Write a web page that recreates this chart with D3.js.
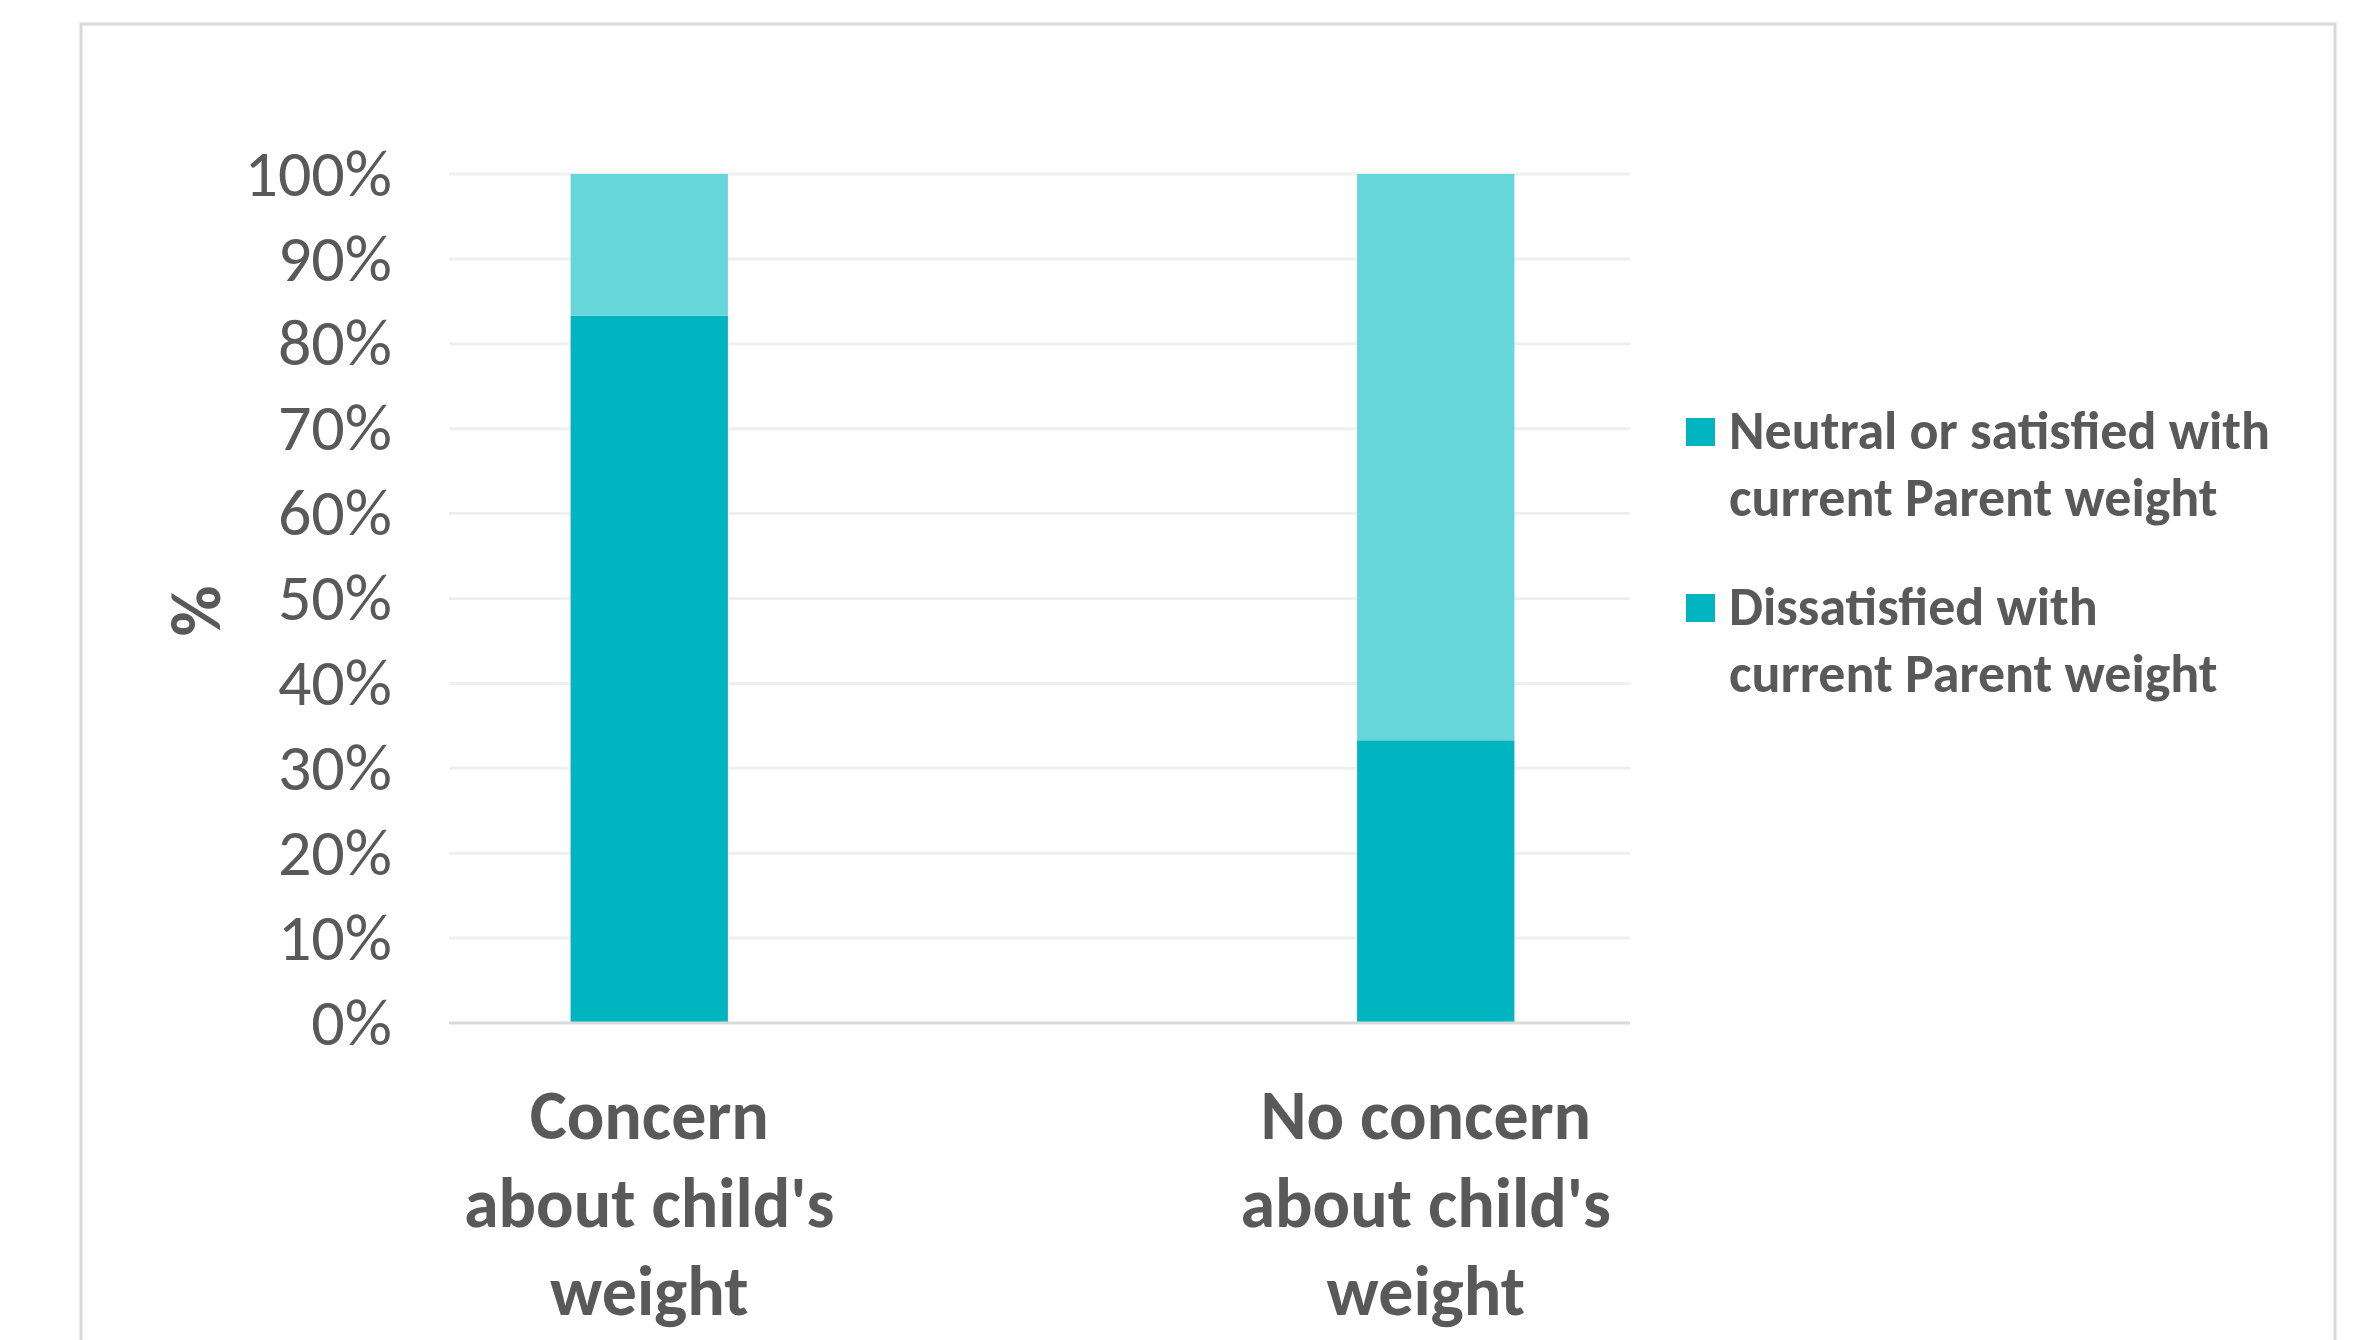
<!DOCTYPE html>
<html>
<head>
<meta charset="utf-8">
<script src="https://cdn.jsdelivr.net/npm/d3@7"></script>
<style>
  body { margin: 0; background: #fff; }
  svg text { font-family: Carlito, Calibri, Lato, sans-serif; fill: #595959; }
</style>
</head>
<body>
<script>
// chart values
var categories = ["Concern about child's weight", "No concern about child's weight"];
var categoryLines = [["Concern", "about child's", "weight"], ["No concern", "about child's", "weight"]];
var dissatisfied = [83.3, 33.3];
var neutral = [16.7, 66.7];
var seriesNames = ["Neutral or satisfied with current Parent weight", "Dissatisfied with current Parent weight"];
var legendLines = [["Neutral or satisfied with", "current Parent weight"], ["Dissatisfied with", "current Parent weight"]];
var yTicks = [0, 10, 20, 30, 40, 50, 60, 70, 80, 90, 100];

var width = 2376, height = 1340;
var darkTeal = "#00b4c0", lightTeal = "#66d6da";

var svg = d3.select("body").append("svg")
    .attr("width", width)
    .attr("height", height);

// chart area border
svg.append("rect")
    .attr("x", 81).attr("y", 24)
    .attr("width", 2254).attr("height", 1400)
    .attr("fill", "none")
    .attr("stroke", "#d9d9d9")
    .attr("stroke-width", 3);

var y = d3.scaleLinear()
    .domain([0, 100])
    .range([1023, 174]);

var x = d3.scaleBand()
    .domain(categories)
    .range([256, 1829])
    .paddingInner(0.8)
    .paddingOuter(0.4);

var gridLeft = 449, gridRight = 1630;

// gridlines
svg.append("g")
    .selectAll("line")
    .data(yTicks.filter(function (d) { return d > 0; }))
    .join("line")
    .attr("x1", gridLeft).attr("x2", gridRight)
    .attr("y1", function (d) { return y(d); })
    .attr("y2", function (d) { return y(d); })
    .attr("stroke", "#efefef")
    .attr("stroke-width", 3);

// stacked bars
var rows = categories.map(function (c, i) {
    return { cat: c, dissatisfied: dissatisfied[i], neutral: neutral[i] };
});
var stack = d3.stack().keys(["dissatisfied", "neutral"])(rows);
var fills = { dissatisfied: darkTeal, neutral: lightTeal };

svg.append("g")
    .selectAll("g")
    .data(stack)
    .join("g")
    .attr("fill", function (s) { return fills[s.key]; })
    .selectAll("rect")
    .data(function (s) { return s; })
    .join("rect")
    .attr("x", function (d) { return x(d.data.cat); })
    .attr("width", x.bandwidth())
    .attr("y", function (d) { return y(d[1]); })
    .attr("height", function (d) { return y(d[0]) - y(d[1]); });

// baseline
svg.append("line")
    .attr("x1", gridLeft).attr("x2", gridRight)
    .attr("y1", y(0)).attr("y2", y(0))
    .attr("stroke", "#d9d9d9")
    .attr("stroke-width", 3);

// y axis labels
var yAxis = svg.append("g")
    .attr("transform", "translate(392,0)")
    .call(d3.axisLeft(y).tickValues(yTicks).tickSize(0).tickPadding(0)
        .tickFormat(function (d) { return d + "%"; }));
yAxis.select(".domain").remove();
yAxis.selectAll("text")
    .attr("font-size", 66)
    .attr("dy", "0.32em")
    .style("font-family", "Carlito, Calibri, Lato, sans-serif")
    .attr("fill", "#595959");

// y axis title
svg.append("text")
    .attr("transform", "translate(220,611) rotate(-90)")
    .attr("text-anchor", "middle")
    .attr("font-size", 70)
    .attr("font-weight", "bold")
    .text("%");

// category labels
categories.forEach(function (c, i) {
    var t = svg.append("text")
        .attr("text-anchor", "middle")
        .attr("font-size", 70)
        .attr("font-weight", "bold");
    categoryLines[i].forEach(function (line, j) {
        t.append("tspan")
            .attr("x", x(c) + x.bandwidth() / 2 - (i === 1 ? 10 : 0))
            .attr("y", 1139 + j * 88)
            .text(line);
    });
});

// legend
var legend = svg.append("g");
seriesNames.forEach(function (name, i) {
    var top = 418 + i * 176;
    legend.append("rect")
        .attr("x", 1686).attr("y", top)
        .attr("width", 29).attr("height", 28)
        .attr("fill", darkTeal);
    var t = legend.append("text")
        .attr("font-size", 54)
        .attr("font-weight", "bold");
    legendLines[i].forEach(function (line, j) {
        t.append("tspan")
            .attr("x", 1729)
            .attr("y", top + 31 + j * 67)
            .text(line);
    });
});
</script>
</body>
</html>
